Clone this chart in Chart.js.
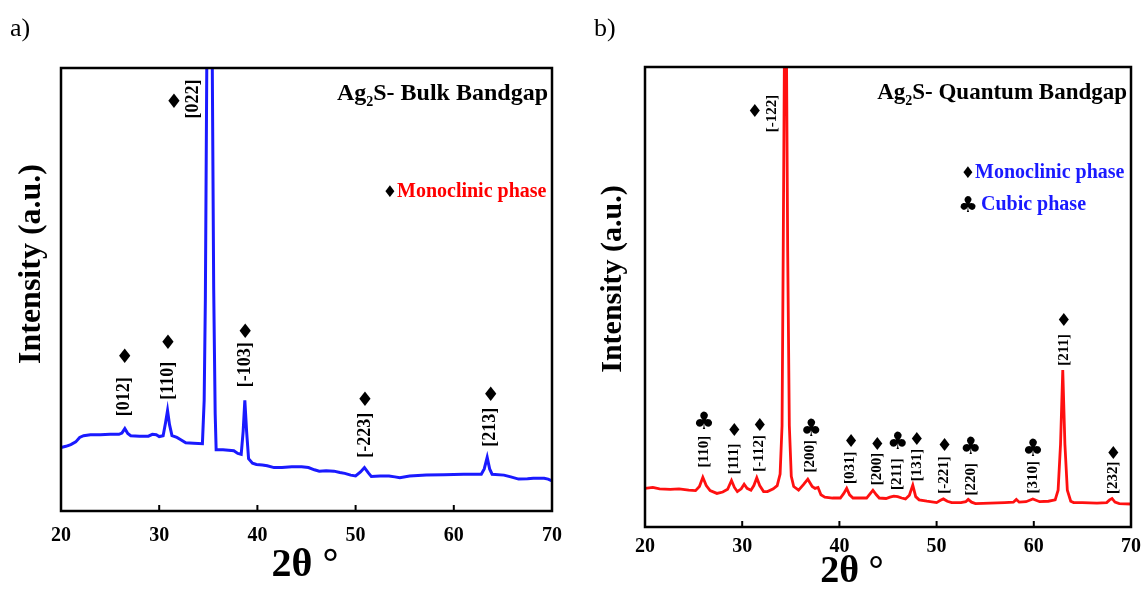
<!DOCTYPE html>
<html>
<head>
<meta charset="utf-8">
<script src="https://cdn.jsdelivr.net/npm/chart.js@4.4.1/dist/chart.umd.min.js"></script>
<style>
  body { margin: 0; background: #fff; overflow: hidden; }
  #wrap { position: relative; width: 1143px; height: 590px; overflow: hidden; }
  canvas { position: absolute; top: 0; }
</style>
</head>
<body>
<div id="wrap">
  <canvas id="bulk" width="580" height="590" style="left:0"></canvas>
  <canvas id="quantum" width="580" height="590" style="left:580px"></canvas>
</div>
<script>
/**
 * Data
 */
const xTicks = [20, 30, 40, 50, 60, 70];

// a) bulk Ag2S, blue trace
const bulkTheta = [20.0, 20.5, 21.0, 21.5, 21.9, 22.3, 23.0, 24.0, 25.0, 25.9, 26.2, 26.5, 26.8, 27.1,
  28.0, 28.9, 29.3, 29.7, 30.0, 30.4, 30.65, 30.85, 31.05, 31.3, 31.8, 32.2, 32.7, 33.5, 34.4,
  34.58, 34.7, 34.9, 35.35, 35.55, 35.7, 35.8, 36.5, 37.6, 38.0, 38.35, 38.55, 38.72, 38.9, 39.1,
  39.5, 39.9, 40.5, 41.0, 41.7, 42.5, 43.5, 44.5, 45.2, 45.8, 46.3, 47.0, 47.8, 48.4, 48.9, 49.5,
  50.0, 50.5, 50.9, 51.3, 51.6, 52.5, 53.4, 54.0, 54.5, 55.5, 57.2, 59.0, 61.0, 62.8, 63.1, 63.4,
  63.65, 63.9, 65.1, 65.8, 66.6, 67.5, 68.1, 69.2, 69.6, 70.0];
const bulkIntensity = [14.3, 14.6, 15.0, 15.6, 16.6, 17.0, 17.2, 17.2, 17.3, 17.3, 17.6, 18.6, 17.5, 17.0,
  16.9, 16.9, 17.3, 17.2, 16.8, 17.0, 20.0, 22.7, 19.5, 17.0, 16.6, 16.1, 15.4, 15.3, 15.2,
  25.0, 47.7, 120, 120, 50, 22, 13.8, 13.8, 13.6, 13.0, 12.8, 18.0, 25.0, 18.0, 11.8,
  10.8, 10.5, 10.4, 10.2, 9.8, 9.8, 10.0, 10.0, 9.8, 9.3, 9.0, 9.1, 9.0, 8.7, 8.5, 8.1,
  7.9, 8.8, 9.8, 8.6, 7.8, 7.9, 7.9, 7.7, 7.5, 7.9, 8.1, 8.2, 8.3, 8.3, 9.5, 12.1,
  9.5, 8.3, 8.1, 7.7, 7.2, 7.3, 7.4, 7.4, 7.2, 6.8];
const bulkHkl = ['[022]', '[012]', '[110]', '[-103]', '[-223]', '[213]'];
const bulkHklPhase = ['mono', 'mono', 'mono', 'mono', 'mono', 'mono'];
const bulkHklTheta = [33.45, 26.5, 30.9, 38.8, 51.0, 63.7];
const bulkHklAt = [93.0, 25.8, 29.4, 33.0, 17.1, 18.9];
const bulkSymTheta = [31.5, 26.5, 30.9, 38.75, 50.95, 63.75];
const bulkSymAt = [92.1, 34.6, 37.8, 40.3, 24.9, 26.0];

// b) quantum Ag2S, red trace
const quantumTheta = [20.0, 20.8, 21.5, 22.6, 23.5, 24.5, 25.2, 25.6, 25.95, 26.3, 26.7, 27.4, 28.0,
  28.5, 28.9, 29.2, 29.5, 29.9, 30.2, 30.5, 30.9, 31.2, 31.5, 31.8, 32.2, 32.6, 33.2, 33.6, 33.9,
  34.1, 34.22, 34.45, 34.68, 34.85, 35.05, 35.3, 35.8, 36.3, 36.75, 37.2, 37.5, 37.8, 38.1, 38.5,
  39.3, 40.1, 40.45, 40.75, 41.05, 41.4, 42.8, 43.15, 43.45, 43.8, 44.1, 44.8, 45.2, 45.6, 46.0,
  46.4, 46.8, 47.2, 47.55, 47.85, 48.2, 49.0, 50.0, 50.4, 50.7, 51.1, 51.55, 52.5, 53.0, 53.25,
  53.6, 54.0, 55.5, 57.0, 57.9, 58.2, 58.5, 59.2, 59.9, 60.6, 61.5, 62.2, 62.5, 62.75, 62.98,
  63.2, 63.45, 63.8, 64.1, 65.0, 66.5, 67.5, 67.8, 68.05, 68.35, 68.8, 70.0];
const quantumIntensity = [8.4, 8.6, 8.3, 8.2, 8.3, 8.0, 7.9, 8.8, 10.8, 9.0, 7.9, 7.3, 7.6,
  8.2, 10.1, 8.6, 7.7, 8.3, 9.3, 8.4, 8.0, 9.0, 10.7, 9.0, 7.7, 7.7, 8.3, 9.0, 11.5,
  22, 60, 140, 60, 22, 11, 8.8, 8.0, 9.2, 10.4, 8.8, 8.4, 8.6, 7.0, 6.5,
  6.3, 6.3, 7.3, 8.4, 7.0, 6.3, 6.3, 7.2, 8.0, 7.0, 6.3, 6.2, 6.5, 6.7, 6.6,
  6.3, 6.1, 6.9, 9.1, 6.6, 5.9, 5.6, 5.3, 5.8, 6.1, 5.6, 5.3, 5.3, 5.5, 6.0,
  5.4, 5.1, 5.2, 5.3, 5.4, 6.0, 5.4, 5.5, 6.1, 5.5, 5.6, 5.9, 8.0, 18, 34.1,
  18, 8.0, 5.6, 5.3, 5.3, 5.2, 5.3, 5.9, 6.2, 5.4, 5.1, 5.0];
const quantumHkl = ['[-122]', '[110]', '[111]', '[-112]', '[200]', '[031]', '[200]', '[211]', '[131]',
  '[-221]', '[220]', '[310]', '[211]', '[232]'];
const quantumHklPhase = ['mono', 'cubic', 'mono', 'mono', 'cubic', 'mono', 'mono', 'cubic', 'mono',
  'mono', 'cubic', 'cubic', 'mono', 'mono'];
const quantumHklTheta = [33.07, 26.06, 29.2, 31.78, 36.95, 41.1, 43.9, 45.93, 47.96, 50.81, 53.51, 59.93, 63.1, 68.17];
const quantumHklAt = [89.9, 16.4, 14.8, 16.0, 15.4, 12.9, 12.6, 11.5, 13.5, 11.3, 10.4, 10.8, 38.5, 10.7];
const quantumSymTheta = [31.3, 26.06, 29.2, 31.8, 37.1, 41.2, 43.9, 46.0, 47.96, 50.81, 53.51, 59.93, 63.1, 68.17];
const quantumSymAt = [90.1, 22.6, 20.9, 21.8, 21.1, 18.5, 17.8, 18.3, 18.9, 17.5, 17.2, 16.7, 44.8, 15.9];

/**
 * Methods
 */
const SERIF = '"Liberation Serif", "Times New Roman", serif';
const SYMBOL = { mono: '\u2666', cubic: '\u2663' };

const vText = (ctx, text, x, y, font) => {
  ctx.save();
  ctx.translate(x, y);
  ctx.rotate(-Math.PI / 2);
  ctx.font = font;
  ctx.textAlign = 'center';
  ctx.textBaseline = 'middle';
  ctx.fillText(text, 0, 0);
  ctx.restore();
};

// Ag2S title with subscript, right aligned at x
const formulaTitle = (ctx, rest, x, y, size) => {
  const big = `bold ${size}px ${SERIF}`;
  const small = `bold ${Math.round(size * 0.6)}px ${SERIF}`;
  ctx.font = big;
  const w1 = ctx.measureText('Ag').width;
  const w3 = ctx.measureText(rest).width;
  ctx.font = small;
  const w2 = ctx.measureText('2').width;
  let sx = x - (w1 + w2 + w3);
  ctx.textAlign = 'left';
  ctx.textBaseline = 'alphabetic';
  ctx.font = big;
  ctx.fillText('Ag', sx, y);
  ctx.font = small;
  ctx.fillText('2', sx + w1, y + size * 0.25);
  ctx.font = big;
  ctx.fillText(rest, sx + w1 + w2, y);
};

const decorPlugin = {
  id: 'decor',
  afterDraw(chart, args, o) {
    const { ctx, chartArea: a, scales: { x, y } } = chart;
    ctx.save();
    ctx.fillStyle = '#000';
    ctx.strokeStyle = '#000';

    // box + inward ticks
    ctx.lineWidth = 2.5;
    ctx.strokeRect(a.left, a.top, a.right - a.left, a.bottom - a.top);
    ctx.lineWidth = 2;
    xTicks.forEach(t => {
      const px = x.getPixelForValue(t);
      ctx.beginPath();
      ctx.moveTo(px, a.bottom);
      ctx.lineTo(px, a.bottom - 6);
      ctx.stroke();
    });

    // panel letter
    ctx.font = `26px ${SERIF}`;
    ctx.textAlign = 'left';
    ctx.textBaseline = 'alphabetic';
    ctx.fillText(o.letter, o.letterX, 36);

    // axis titles
    vText(ctx, 'Intensity (a.u.)', o.yTitleX, o.yTitleY, `bold ${o.yTitleSize}px ${SERIF}`);
    ctx.font = `bold ${o.xTitleSize}px ${SERIF}`;
    ctx.textAlign = 'center';
    ctx.textBaseline = 'middle';
    ctx.fillText('2\u03b8 \u00b0', o.xTitleX, o.xTitleY);

    // sample title
    formulaTitle(ctx, o.title, a.right - 4, o.titleY, o.titleSize);

    // phase legend
    o.legend.forEach(l => {
      ctx.font = `bold 20px ${SERIF}`;
      ctx.textAlign = 'left';
      ctx.textBaseline = 'middle';
      ctx.fillStyle = o.legendColor;
      ctx.fillText(l.text, l.x, l.y);
      ctx.fillStyle = '#000';
      ctx.font = `${l.phase === 'mono' ? 16 : 22}px "DejaVu Sans"`;
      ctx.textAlign = 'center';
      ctx.fillText(SYMBOL[l.phase], l.x - (l.phase === 'mono' ? 7 : 13), l.y + 1);
    });

    // peak indices
    o.hkl.forEach((label, i) => {
      vText(ctx, label, x.getPixelForValue(o.hklTheta[i]), y.getPixelForValue(o.hklAt[i]),
        `bold ${o.hklSize}px ${SERIF}`);
      const ph = o.hklPhase[i];
      ctx.font = `${ph === 'mono' ? o.symSize : o.symSize + 6}px "DejaVu Sans"`;
      ctx.textAlign = 'center';
      ctx.textBaseline = 'middle';
      ctx.fillText(SYMBOL[ph], x.getPixelForValue(o.symTheta[i]), y.getPixelForValue(o.symAt[i]));
    });
    ctx.restore();
  }
};

const createPanel = (id, theta, intensity, color, lineW, box, decor) => {
  const ctx = document.getElementById(id).getContext('2d');
  return new Chart(ctx, {
    type: 'line',
    data: {
      datasets: [{
        data: theta.map((t, i) => ({ x: t, y: intensity[i] })),
        borderColor: color,
        borderWidth: lineW,
        pointRadius: 0,
        tension: 0,
        fill: false,
        clip: 0
      }]
    },
    options: {
      responsive: false,
      animation: false,
      events: [],
      layout: { padding: { top: box.top, right: box.right, left: 0, bottom: 0 } },
      plugins: { legend: { display: false }, tooltip: { enabled: false }, decor },
      scales: {
        x: {
          type: 'linear',
          min: 20,
          max: 70,
          afterBuildTicks: s => { s.ticks = xTicks.map(v => ({ value: v })); },
          ticks: {
            color: '#000',
            padding: box.tickPad,
            maxRotation: 0,
            font: { family: SERIF, size: 20, weight: 'bold' }
          },
          grid: { display: false, drawTicks: false },
          border: { display: false },
          afterFit: s => { s.height = box.bottom; }
        },
        y: {
          min: 0,
          max: 100,
          ticks: { display: false },
          grid: { display: false, drawTicks: false },
          border: { display: false },
          afterFit: s => { s.width = box.left; }
        }
      }
    },
    plugins: [decorPlugin]
  });
};

/**
 * Events
 */
document.addEventListener('DOMContentLoaded', () => {
  createPanel('bulk', bulkTheta, bulkIntensity, '#1a1aff', 3,
    { left: 61, right: 28, top: 68, bottom: 79, tickPad: 13 },
    {
      letter: 'a)', letterX: 10,
      yTitleX: 32, yTitleY: 264, yTitleSize: 32,
      xTitleX: 305, xTitleY: 566, xTitleSize: 40,
      title: 'S- Bulk Bandgap', titleY: 100, titleSize: 24,
      legendColor: '#ff0000',
      legend: [{ phase: 'mono', text: 'Monoclinic phase', x: 397, y: 192 }],
      hkl: bulkHkl, hklPhase: bulkHklPhase, hklTheta: bulkHklTheta, hklAt: bulkHklAt,
      symTheta: bulkSymTheta, symAt: bulkSymAt, hklSize: 18, symSize: 20
    });
  createPanel('quantum', quantumTheta, quantumIntensity, '#ff1010', 2.8,
    { left: 65, right: 29, top: 67, bottom: 63, tickPad: 8 },
    {
      letter: 'b)', letterX: 14,
      yTitleX: 33, yTitleY: 279, yTitleSize: 30,
      xTitleX: 272, xTitleY: 572, xTitleSize: 38,
      title: 'S- Quantum Bandgap', titleY: 99, titleSize: 23,
      legendColor: '#1a1aff',
      legend: [
        { phase: 'mono', text: 'Monoclinic phase', x: 395, y: 173 },
        { phase: 'cubic', text: 'Cubic phase', x: 401, y: 205 }
      ],
      hkl: quantumHkl, hklPhase: quantumHklPhase, hklTheta: quantumHklTheta, hklAt: quantumHklAt,
      symTheta: quantumSymTheta, symAt: quantumSymAt, hklSize: 15, symSize: 18
    });
});
</script>
</body>
</html>
